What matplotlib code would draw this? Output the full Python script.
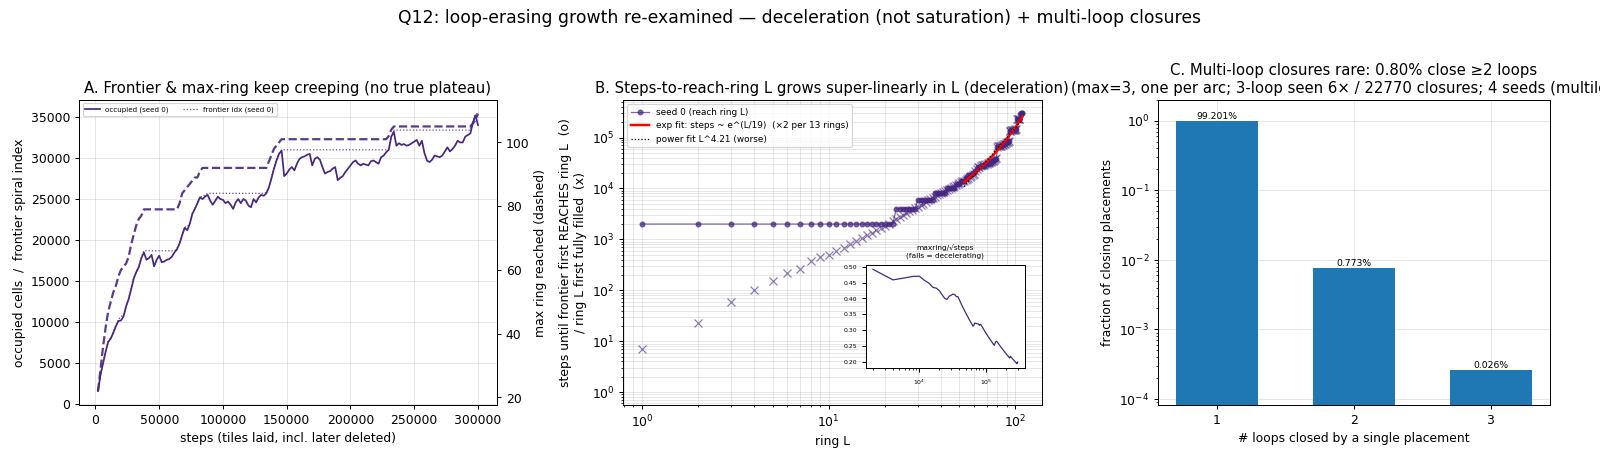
import numpy as np
import matplotlib
matplotlib.use("Agg")
import matplotlib.pyplot as plt

# ---------------- data ----------------
steps = np.arange(2000, 300001, 2000)

occupied = [
    1600, 3600, 5000, 6400, 7600, 8000, 8700, 9500, 10150, 10200,
    10700, 11900, 12800, 14000, 15300, 16100, 16700, 17800, 18500, 17600,
    17800, 18200, 16800, 17600, 18100, 17300, 17400, 17600, 17700, 18000,
    18500, 18900, 19600, 20600, 21500, 21200, 22000, 23200, 23800, 24500,
    25200, 25000, 25300, 25500, 24800, 24300, 24800, 25300, 25000, 24900,
    24500, 24700, 24300, 23800, 24600, 25000, 24500, 25000, 24800, 24200,
    24000, 25000, 24600, 25200, 25500, 25400, 25700, 26400, 27500, 28700,
    29700, 30500, 30900, 27800, 28100, 28600, 28900, 28500, 29300, 29900,
    30100, 30200, 30400, 30500, 29100, 29900, 30100, 29800, 28900, 28100,
    28300, 28400, 28700, 28900, 27300, 27600, 27800, 28300, 28700, 29100,
    29500, 29700, 29300, 29100, 29300, 29200, 29100, 29600, 29700, 29500,
    29300, 30100, 30300, 30700, 31000, 32600, 33200, 31500, 31800, 31600,
    31700, 31500, 31600, 31800, 32000, 32200, 31500, 32100, 30600, 29700,
    29500, 29800, 30300, 30200, 30100, 30300, 30800, 31300, 30800, 31100,
    31500, 32100, 31900, 31900, 32600, 32800, 33000, 34300, 35200, 34000,
]

frontier = [
    1700, 3700, 5100, 6500, 7700, 8100, 8800, 9600, 10300, 10700,
    10800, 12000, 12900, 14100, 15400, 16200, 16800, 17900, 18700, 18700,
    18700, 18700, 18700, 18700, 18700, 18700, 18700, 18700, 18700, 18700,
    18700, 19000, 19700, 20700, 21600, 21600, 22100, 23300, 23900, 24600,
    25300, 25300, 25500, 25700, 25700, 25700, 25700, 25700, 25700, 25700,
    25700, 25700, 25700, 25700, 25700, 25700, 25700, 25700, 25700, 25700,
    25700, 25700, 25700, 25700, 25700, 25700, 25800, 26500, 27600, 28800,
    29800, 30600, 31000, 31000, 31000, 31000, 31000, 31000, 31000, 31000,
    31000, 31000, 31000, 31000, 31000, 31000, 31000, 31000, 31000, 31000,
    31000, 31000, 31000, 31000, 31000, 31000, 31000, 31000, 31000, 31000,
    31000, 31000, 31000, 31000, 31000, 31000, 31000, 31000, 31000, 31000,
    31000, 31000, 31000, 31000, 31100, 32700, 33400, 33400, 33400, 33400,
    33400, 33400, 33400, 33400, 33400, 33400, 33400, 33400, 33400, 33400,
    33400, 33400, 33400, 33400, 33400, 33400, 33400, 33400, 33400, 33400,
    33400, 33400, 33400, 33400, 33400, 33400, 33400, 34400, 35400, 35400,
]

max_ring = [
    22, 29, 36, 42, 47, 50, 53, 55, 58, 60,
    61, 62, 64, 68, 71, 74, 76, 77, 79, 79,
    79, 79, 79, 79, 79, 79, 79, 79, 79, 79,
    79, 79, 81, 84, 85, 86, 87, 88, 89, 89,
    91, 92, 92, 92, 92, 92, 92, 92, 92, 92,
    92, 92, 92, 92, 92, 92, 92, 92, 92, 92,
    92, 92, 92, 92, 92, 92, 92, 94, 96, 98,
    99, 100, 101, 101, 101, 101, 101, 101, 101, 101,
    101, 101, 101, 101, 101, 101, 101, 101, 101, 101,
    101, 101, 101, 101, 101, 101, 101, 101, 101, 101,
    101, 101, 101, 101, 101, 101, 101, 101, 101, 101,
    101, 101, 101, 101, 102, 104, 105, 105, 105, 105,
    105, 105, 105, 105, 105, 105, 105, 105, 105, 105,
    105, 105, 105, 105, 105, 105, 105, 105, 105, 105,
    105, 105, 105, 105, 105, 105, 105, 106, 107, 109,
]

fill_L = np.arange(1, 106)
fill_steps = [
    7, 23, 60, 100, 150, 220, 260, 380, 450, 500,
    590, 680, 800, 920, 1050, 1200, 1350, 1500, 1650, 1850,
    2050, 2300, 2550, 2800, 3050, 3300, 3600, 3850, 4100, 4400,
    4700, 5000, 5400, 5800, 6100, 6500, 6900, 7300, 7700, 8100,
    8500, 8900, 9300, 9800, 10200, 10700, 11200, 11700, 12200, 12700,
    13200, 13800, 14300, 14900, 15500, 16300, 17100, 17900, 18700, 19600,
    22500, 24500, 26300, 26800, 28200, 28600, 29000, 29500, 30300, 30800,
    31200, 32300, 32800, 33400, 34300, 34900, 36400, 38200, 39000, 66300,
    66800, 68200, 68700, 69300, 70300, 72300, 74300, 76300, 78300, 82300,
    82800, 84300, 136300, 136800, 138300, 138800, 140300, 140800, 142300, 144300,
    146300, 230300, 232300, 232800, 234300,
]

exp_tau = 19.0
power_exp = 4.21
fit_L_min = 53

loops_closed = [1, 2, 3]
loop_frac = [0.99201, 0.00773, 0.00026]

assert len(occupied) == len(frontier) == len(max_ring) == len(steps)
assert len(fill_steps) == len(fill_L)

PURPLE = '#45277f'

# ---------------- figure ----------------
DPI = 1600 / 18.0
fig = plt.figure(figsize=(18, 5.2), dpi=DPI)
H = 462.0
W = 1600.0
bot = (H - 405) / H
hgt = 305 / H
axA = fig.add_axes([79 / W, bot, 418 / W, hgt])
axB = fig.add_axes([623 / W, bot, 418.5 / W, hgt])
axC = fig.add_axes([1158 / W, bot, 392 / W, hgt])

fig.suptitle('Q12: loop-erasing growth re-examined \u2014 deceleration (not saturation) + multi-loop closures',
             fontsize=14)

# ---- Panel A ----
axA.plot(steps, occupied, color=PURPLE, lw=1.4, label='occupied (seed 0)')
axA.plot(steps, frontier, color=PURPLE, lw=1.0, ls=':', alpha=0.85, label='frontier idx (seed 0)')
axA.set_xlabel('steps (tiles laid, incl. later deleted)')
axA.set_ylabel('occupied cells  /  frontier spiral index')
axA.set_title('A. Frontier & max-ring keep creeping (no true plateau)')
axA.grid(alpha=0.3)
axA.legend(loc='upper left', fontsize=5.8, ncol=2)
axA2 = axA.twinx()
axA2.plot(steps, max_ring, color=PURPLE, lw=1.8, ls='--', alpha=0.9)
axA2.set_ylabel('max ring reached (dashed)')

# ---- Panel B ----
mr = np.asarray(max_ring)
rings = np.arange(1, mr.max() + 1)
reach = np.array([steps[np.argmax(mr >= L)] for L in rings], dtype=float)

axB.plot(fill_L, fill_steps, 'x', color=PURPLE, alpha=0.6, ms=6, mew=1.0)
axB.plot(rings, reach, 'o-', color=PURPLE, alpha=0.7, ms=3.8, lw=1.0, label='seed 0 (reach ring L)')

sel = rings >= fit_L_min
Lf = rings[sel].astype(float)
exp_amp = np.exp(np.mean(np.log(reach[sel]) - Lf / exp_tau))
pow_amp = np.exp(np.mean(np.log(reach[sel]) - power_exp * np.log(Lf)))
axB.plot(Lf, exp_amp * np.exp(Lf / exp_tau), color='red', lw=2,
         label='exp fit: steps ~ e^(L/19)  (\u00d72 per 13 rings)')
axB.plot(Lf, pow_amp * Lf ** power_exp, 'k:', lw=1, label='power fit L^4.21 (worse)')
axB.set_xscale('log')
axB.set_yscale('log')
axB.set_ylim(0.56, 5.5e5)
axB.grid(which='both', alpha=0.3)
axB.set_xlabel('ring L')
axB.set_ylabel('steps until frontier first REACHES ring L  (o)\n/ ring L first fully filled  (x)')
axB.set_title('B. Steps-to-reach-ring L grows super-linearly in L (deceleration)')
axB.legend(loc='upper left', fontsize=7.2)

ins = axB.inset_axes([0.58, 0.12, 0.38, 0.34])
ins.plot(steps, mr / np.sqrt(steps), color=PURPLE, lw=1)
ins.set_xscale('log')
ins.set_title('maxring/\u221asteps\n(falls = decelerating)', fontsize=6)
ins.tick_params(labelsize=5)

# ---- Panel C ----
bars = axC.bar(loops_closed, loop_frac, width=0.6, color='#1f77b4')
for x, v in zip(loops_closed, loop_frac):
    axC.text(x, v, f'{v * 100:.3f}%', ha='center', va='bottom', fontsize=7.5)
axC.set_yscale('log')
axC.set_ylim(8.2e-5, 2.0)
axC.set_xticks(loops_closed)
axC.grid(alpha=0.3)
axC.set_axisbelow(True)
axC.set_xlabel('# loops closed by a single placement')
axC.set_ylabel('fraction of closing placements')
axC.set_title('C. Multi-loop closures rare: 0.80% close \u22652 loops\n'
              '(max=3, one per arc; 3-loop seen 6\u00d7 / 22770 closures; 4 seeds (multiloop))')

fig.savefig('out.png', dpi=DPI)
